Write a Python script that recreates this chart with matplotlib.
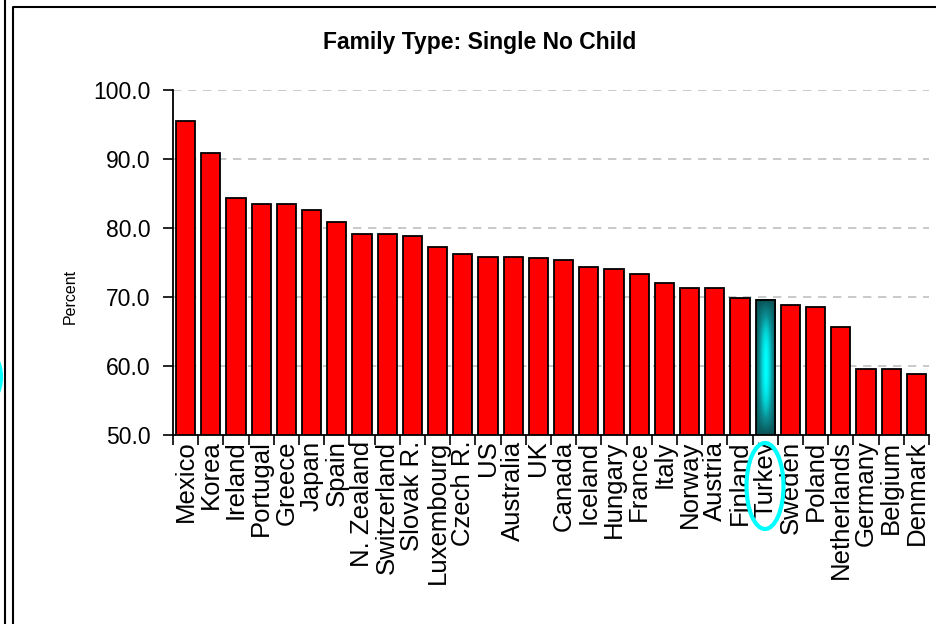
import numpy as np
import matplotlib.pyplot as plt
from matplotlib.lines import Line2D
from matplotlib.patches import Ellipse
from matplotlib.colors import LinearSegmentedColormap

plt.rcParams['font.family'] = ['Liberation Sans', 'DejaVu Sans']

countries = ["Mexico", "Korea", "Ireland", "Portugal", "Greece", "Japan", "Spain",
             "N. Zealand", "Switzerland", "Slovak R.", "Luxembourg", "Czech R.", "US",
             "Australia", "UK", "Canada", "Iceland", "Hungary", "France", "Italy",
             "Norway", "Austria", "Finland", "Turkey", "Sweden", "Poland",
             "Netherlands", "Germany", "Belgium", "Denmark"]
percent = [95.5, 90.8, 84.4, 83.5, 83.5, 82.6, 80.9, 79.2, 79.2, 78.8, 77.3, 76.2, 75.8,
           75.8, 75.6, 75.4, 74.3, 74.1, 73.4, 72.1, 71.3, 71.3, 69.8, 69.6, 68.9, 68.5,
           65.7, 59.5, 59.5, 58.8]
highlight = "Turkey"
y_ticks = [50.0, 60.0, 70.0, 80.0, 90.0, 100.0]

W, H = 937, 624
fig = plt.figure(figsize=(W / 100, H / 100), dpi=100)
ax = fig.add_axes([173 / W, 1 - 435 / H, (929 - 173) / W, (435 - 90) / H])

x = np.arange(len(countries))
bar_w = 0.76
colors = ["none" if c == highlight else "#ff0000" for c in countries]
ax.bar(x, percent, width=bar_w, bottom=0, color=colors,
       edgecolor="black", linewidth=1.3, zorder=3)

# gradient fill for the highlighted bar
hi = countries.index(highlight)
gx = np.linspace(-1, 1, 60)
gy = np.linspace(-1, 1, 200)
GX, GY = np.meshgrid(gx, gy)
shade = (1 - np.abs(GX) ** 1.6) * (1 - np.abs(GY) ** 2.5)
cmap = LinearSegmentedColormap.from_list("teal", ["#0b4f52", "#0a8f94", "#00ffff"])
ax.imshow(shade, cmap=cmap, aspect="auto", origin="lower", interpolation="bilinear",
          extent=[hi - bar_w / 2, hi + bar_w / 2, 50, percent[hi]], zorder=2)

ax.set_xlim(-0.5, len(countries) - 0.5)
ax.set_ylim(50, 100)
ax.set_yticks(y_ticks)
ax.set_yticklabels([f"{v:.1f}" for v in y_ticks], fontsize=16.5)
ax.set_xticks(x)
ax.set_xticklabels(countries, rotation=90, fontsize=18.5)
ax.tick_params(axis="x", length=0, pad=4)
ax.set_xticks(np.arange(len(countries) + 1) - 0.5, minor=True)
ax.tick_params(axis="x", which="minor", length=7, width=1.2, direction="out")
ax.tick_params(axis="y", length=7, width=1.2, direction="out", pad=9)

for v in y_ticks[1:]:
    ax.axhline(v, color="#c0c0c0", linestyle=(0, (5, 4)), linewidth=1.2, zorder=1)

for s in ["top", "right"]:
    ax.spines[s].set_visible(False)
for s in ["left", "bottom"]:
    ax.spines[s].set_linewidth(1.3)
    ax.spines[s].set_zorder(4)

fig.text(70 / W, 1 - 296 / H, "Percent", rotation=90, fontsize=11.5,
         ha="center", va="center")
fig.text(480 / W, 1 - 42 / H, "Family Type: Single No Child", fontsize=16.5,
         fontweight="bold", ha="center", va="center")

# highlight ring around the label
fig.add_artist(Ellipse((765 / W, 1 - 486 / H), 37 / W, 86 / H, fill=False,
                       edgecolor="#00ffff", linewidth=3, transform=fig.transFigure))
fig.add_artist(Ellipse((-17 / W, 1 - 377 / H), 36 / W, 56 / H, fill=False,
                       edgecolor="#00ffff", linewidth=3, transform=fig.transFigure))

# panel borders
fig.add_artist(Line2D([4.5 / W, 4.5 / W], [0, 1], color="black", linewidth=1.5,
                      transform=fig.transFigure))
fig.add_artist(Line2D([12.5 / W, 12.5 / W, 1], [0, 1 - 6.5 / H, 1 - 6.5 / H],
                      color="black", linewidth=1.5, transform=fig.transFigure))

fig.savefig("out.png", dpi=100)
